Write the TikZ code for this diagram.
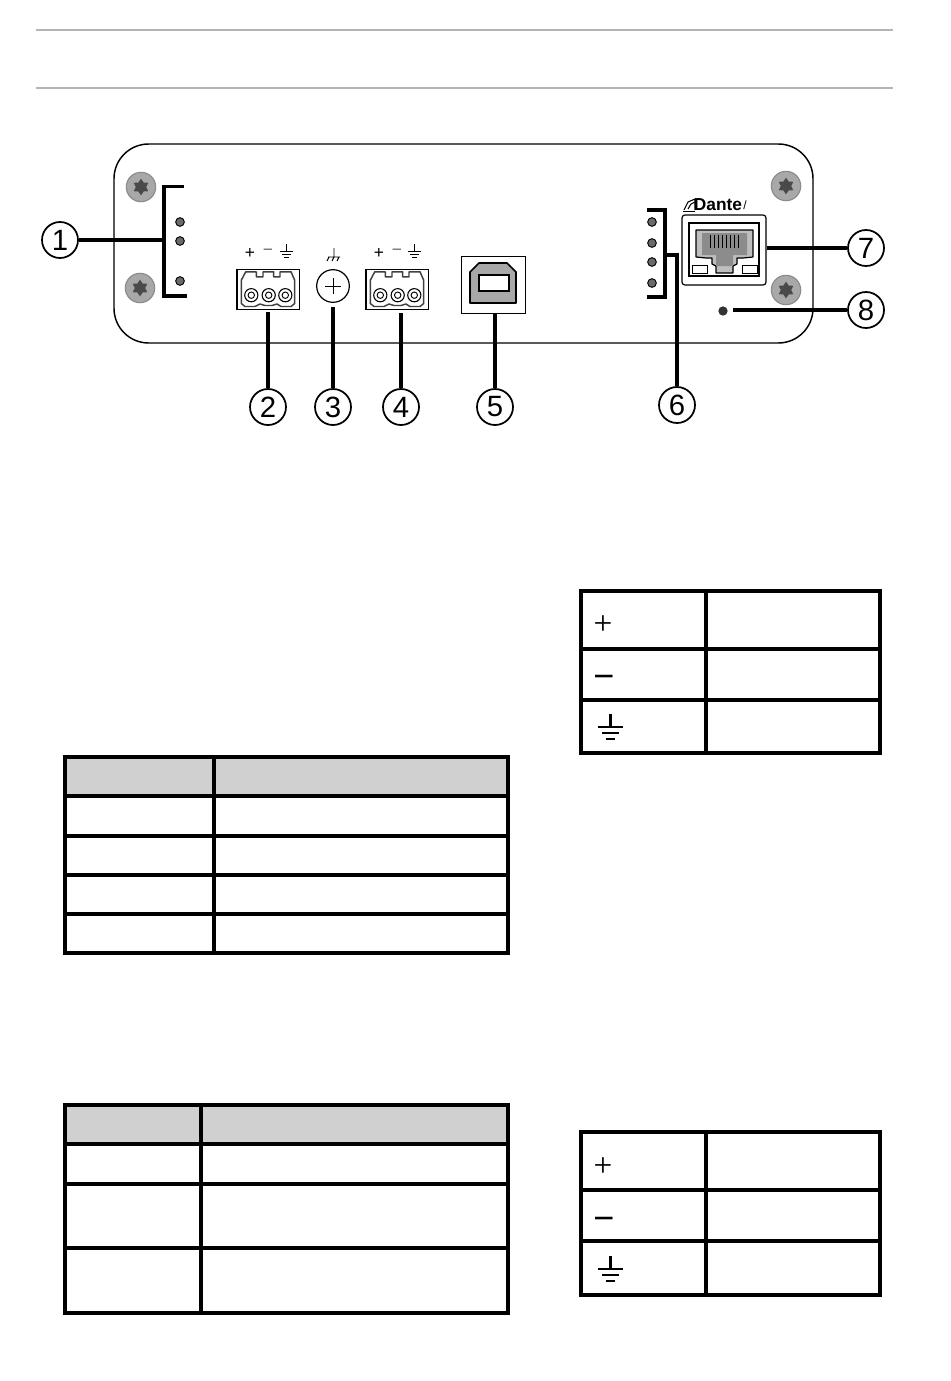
\documentclass[tikz,border=0pt]{standalone}
\usepackage{fontspec}
\setmainfont{Liberation Sans}
\newfontfamily\thinsign{Liberation Serif}
\usetikzlibrary{shapes.geometric}
\definecolor{screwgray}{HTML}{A8A8A8}
\definecolor{stargray}{HTML}{4A4A4A}
\definecolor{ledgray}{HTML}{6A6A6A}
\definecolor{rulegray}{HTML}{B4B4B4}
\definecolor{headgray}{HTML}{D0D0D0}
\definecolor{jackdark}{HTML}{8C8C8C}
\definecolor{jacklight}{HTML}{BEBEBE}
\tikzset{
  callout/.style={circle,draw=black,line width=1.3pt,minimum size=27pt,inner sep=0pt,fill=white,font=\fontsize{22}{22}\selectfont},
  leader/.style={line width=2.3pt,black},
  tabline/.style={line width=2.3pt,black},
  screwhead/.style={circle,draw=black!45,line width=0.9pt,fill=screwgray,minimum size=22pt,inner sep=0pt},
  screwstar/.style={star,star points=6,star point ratio=1.6,fill=stargray,minimum size=12.5pt,inner sep=0pt},
  ledspot/.style={circle,draw=black,line width=0.7pt,fill=ledgray,minimum size=6.5pt,inner sep=0pt},
  panelsign/.style={inner sep=0pt,font=\fontsize{13}{13}\selectfont},
  tableplus/.style={inner sep=0pt,font=\thinsign\fontsize{25}{25}\selectfont},
  tableminus/.style={inner sep=0pt,font=\fontsize{27}{27}\selectfont},
}
\newcommand{\screwat}[3]{\node[screwhead] (#1) at (#2,#3) {};\node[screwstar] (#1s) at (#2,#3) {};}
\newcommand{\ledat}[3]{\node[ledspot] (#1) at (#2,#3) {};}
\newcommand{\gndsmall}[2]{\begin{scope}[shift={(#1,#2)}]
  \draw[line width=0.7pt] (0,-7)--(0,0) (-6.5,0)--(6.5,0) (-4.5,3.5)--(4.5,3.5) (-2.5,6.5)--(2.5,6.5);
\end{scope}}
\newcommand{\gndbig}[2]{\begin{scope}[shift={(#1,#2)}]
  \draw[line width=1.7pt] (0,-13)--(0,0) (-12.5,0)--(12.5,0) (-8.5,6)--(8.5,6) (-4.5,12)--(4.5,12);
\end{scope}}
\newcommand{\plugat}[2]{\begin{scope}[shift={(#1,#2)}]
  \draw[line width=0.9pt,fill=white] (0,0) rectangle (62.5,40);
  \draw[line width=1.1pt,line join=round,black!75]
    (4.3,10.7)--(8.7,2.3)--(19.3,2.3)--(19.3,7.3)--(26,7.3)--(26,2.3)--(36.7,2.3)--(36.7,7.3)--(43,7.3)--(43,2.3)--(54,2.3)--(57.7,10.7)
    --(57.7,34)--(54,37)--(44,37)--(40,34.5)--(35,36)--(28,36)--(23,34.5)--(18,37)--(8,37)--(4.3,34)--cycle;
  \foreach \cx in {14.3,31.7,48.3}{
    \draw[line width=0.8pt] (\cx,25.7) circle (6.6);
    \draw[line width=0.7pt] (\cx,25.7) circle (3.2);
  }
\end{scope}}
\begin{document}
\begin{tikzpicture}[x=0.75pt,y=-0.75pt]
\useasboundingbox (0,0) rectangle (950,1381);
% page rules
\draw[rulegray,line width=1.4pt] (36,30)--(893,30);
\draw[rulegray,line width=1.4pt] (36,88)--(893,88);
% panel
\draw[line width=1.1pt,black,rounded corners=26pt] (114,144) rectangle (813,343);
% screws
\screwat{sa}{141}{187}
\screwat{sb}{140}{288}
\screwat{sc}{786}{186}
\screwat{sd}{786}{290}
% bracket 1 and LEDs
\coordinate (b1a) at (184,186.5);
\coordinate (b1b) at (164,186.5);
\coordinate (b1c) at (164,296);
\coordinate (b1d) at (187,296);
\coordinate (b1m) at (164,240);
\draw[leader] (b1a)--(b1b)--(b1c)--(b1d);
\ledat{la}{180}{222}
\ledat{lb}{180}{241}
\ledat{lc}{180}{281}
% plug 2 with signs
\plugat{237}{269.5}
\node[panelsign] (p2a) at (250,253) {+};
\node[panelsign,text=black!60] (p2b) at (268,252.5) {−};
\gndsmall{286}{251}
\coordinate (c2) at (268,312);
% chassis ground
\node[circle,draw=black,line width=0.9pt,minimum size=24.5pt,inner sep=0pt] (gs) at (333,286) {};
\draw[line width=0.6pt] (325,286)--(341,286) (333,278)--(333,294);
\draw[line width=0.7pt] (334,248)--(334,257) (328,257)--(340,257) (329,257)--(327,261) (334,257)--(332,261) (339,257)--(337,261);
\coordinate (c3) at (333,307);
% plug 4 with signs
\plugat{366}{269.5}
\node[panelsign] (p4a) at (379,253) {+};
\node[panelsign,text=black!60] (p4b) at (397,252.5) {−};
\gndsmall{414}{251}
\coordinate (c4) at (401,313);
% USB
\node[draw=black,line width=0.9pt,minimum width=48.5pt,minimum height=42.5pt,inner sep=0pt] (usb) at (493.5,285) {};
\draw[line width=1.3pt,fill=screwgray,line join=round] (470,303)--(470,272)--(479,263)--(507,263)--(516,272)--(516,303)--cycle;
\draw[line width=1.3pt,fill=white] (479,275) rectangle (509,291);
% LEDs and bracket 6
\coordinate (b6a) at (647,210);
\coordinate (b6b) at (665,210);
\coordinate (b6c) at (665,297);
\coordinate (b6d) at (647,297);
\coordinate (b6m) at (665,255);
\coordinate (b6e) at (677,255);
\draw[leader] (b6a)--(b6b)--(b6c)--(b6d);
\ledat{ma}{652}{222}
\ledat{mb}{652}{243}
\ledat{mc}{652}{262}
\ledat{md}{652}{283}
% Dante logo
\node[inner sep=0pt,font=\bfseries\fontsize{13}{13}\selectfont] (dante) at (718,205) {Dante};
\node[inner sep=0pt,font=\fontsize{9}{9}\selectfont] (slash) at (745,205) {/};
\draw[line width=0.7pt] (683,211)--(695,211);
\draw[line width=0.8pt] (684,210)--(688,202) -- (695,199) (688,209)--(691,204)--(695,202) (695,199)--(695,210);
% RJ45
\draw[line width=0.9pt,rounded corners=2.2pt,fill=white] (682,215) rectangle (766,285);
\coordinate (rj) at (767,248);
\draw[line width=0.9pt] (689,223) rectangle (759,276);
\draw[line width=0.9pt,fill=jacklight,line join=round]
  (696,230)--(753,230)--(753,257)--(743,258)--(737,258)--(737,264)--(733,266)--(733,273)--(716,273)--(716,266)--(712,264)--(712,258)--(706,258)--(696,257)--cycle;
\fill[jackdark] (702,233)--(747,233)--(747,255)--(737,255)--(733,255)--(733,266)--(716,266)--(716,255)--(712,255)--(702,255)--cycle;
\foreach \lx in {710,714,718,722,726,730,734,738}{\draw[line width=0.5pt,black] (\lx,235)--(\lx,248);}
\draw[line width=0.5pt,fill=white] (692,265) rectangle (707,273);
\draw[line width=0.5pt,fill=white] (742,265) rectangle (757,273);
% LED 8
\node[circle,fill=black!80,minimum size=7pt,inner sep=0pt] (l8) at (723,311) {};
\coordinate (c8) at (733,310);
% callouts
\node[callout] (n1) at (60,240) {1};
\node[callout] (n2) at (268,407) {2};
\node[callout] (n3) at (333,407) {3};
\node[callout] (n4) at (401,407) {4};
\node[callout] (n5) at (495,407) {5};
\node[callout] (n6) at (677,405) {6};
\node[callout] (n7) at (866,248) {7};
\node[callout] (n8) at (866,310) {8};
% connectors
\draw[leader] (n1)--(b1m);
\draw[leader] (n2)--(c2);
\draw[leader] (n3)--(c3);
\draw[leader] (n4)--(c4);
\draw[leader] (n5)--(usb.south-|n5);
\draw[leader] (n6)--(b6e)--(b6m);
\draw[leader] (n7)--(rj);
\draw[leader] (n8)--(c8);
% table top right
\draw[tabline] (581,591) rectangle (880,753);
\draw[tabline] (581,649)--(880,649) (581,700)--(880,700) (706,591)--(706,753);
\node[tableplus] (ta) at (603,625) {+};
\node[tableminus] (tb) at (604,682) {−};
\gndbig{610.5}{727}
% table left 1
\fill[headgray] (65,757) rectangle (508,796);
\draw[tabline] (65,757) rectangle (508,953);
\draw[tabline] (65,796)--(508,796) (65,836)--(508,836) (65,875)--(508,875) (65,914)--(508,914) (214,757)--(214,953);
% table left 2
\fill[headgray] (65,1105) rectangle (508,1144);
\draw[tabline] (65,1105) rectangle (508,1313);
\draw[tabline] (65,1144)--(508,1144) (65,1184)--(508,1184) (65,1248)--(508,1248) (201,1105)--(201,1313);
% table bottom right
\draw[tabline] (581,1132) rectangle (880,1295);
\draw[tabline] (581,1190)--(880,1190) (581,1241)--(880,1241) (706,1132)--(706,1295);
\node[tableplus] (tc) at (603,1167) {+};
\node[tableminus] (td) at (604,1224) {−};
\gndbig{610.5}{1269}
\end{tikzpicture}
\end{document}
